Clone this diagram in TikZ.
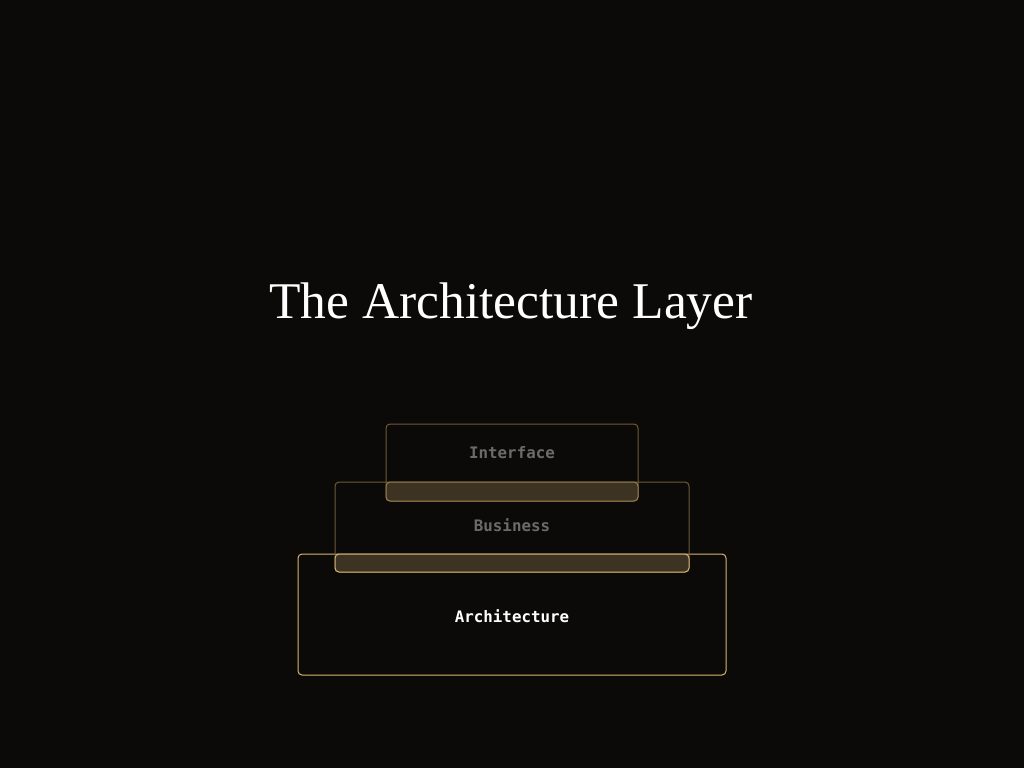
\documentclass[tikz,border=0pt]{standalone}
\usepackage{fontspec}
\setmainfont{Liberation Serif}
\setmonofont{DejaVu Sans Mono}
\definecolor{bg}{HTML}{0B0A08}
\definecolor{gold}{HTML}{D8B672}
\definecolor{dimgold}{HTML}{6E5B38}
\definecolor{midgold}{HTML}{9A7F4C}
\definecolor{overlap}{HTML}{3D3323}
\definecolor{dimtext}{HTML}{6C6B68}
\tikzset{
  layerbox/.style={draw=#1, line width=1pt, rounded corners=4pt, minimum width=0pt, inner sep=0pt},
  overlapbox/.style={draw=#1, fill=overlap, line width=1pt, rounded corners=4pt},
  layerlabel/.style={font=\ttfamily\bfseries\fontsize{15.8}{18}\selectfont, text=#1}
}
\begin{document}
\begin{tikzpicture}[x=1pt,y=-1pt]
	\fill[bg] (0,0) rectangle (1024,768);
	\useasboundingbox (0,0) rectangle (1024,768);
	% title
	\node[text=white, font=\fontsize{51.5}{56}\selectfont, anchor=base] (title) at (511,318) {The Architecture Layer};
	% layers, bottom first
	\draw[layerbox=gold] (298,554) rectangle (726,675);
	\draw[layerbox=dimgold] (335,482) rectangle (689,572);
	\draw[layerbox=dimgold] (386,424) rectangle (638,501);
	% overlaps
	\draw[overlapbox=gold] (335,554) rectangle (689,572);
	\draw[overlapbox=midgold] (386,482) rectangle (638,501);
	% labels
	\node[layerlabel=dimtext] (interface) at (512,453) {Interface};
	\node[layerlabel=dimtext] (business) at (512,525) {Business};
	\node[layerlabel=white] (architecture) at (512,616) {Architecture};
\end{tikzpicture}
\end{document}
